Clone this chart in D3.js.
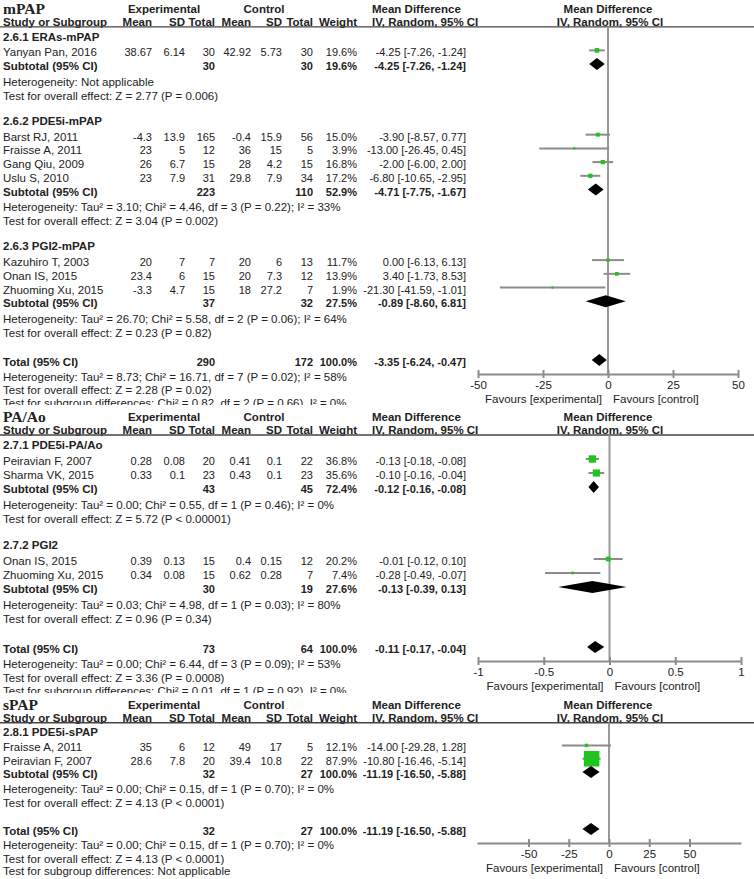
<!DOCTYPE html>
<html><head><meta charset="utf-8">
<script src="https://cdn.jsdelivr.net/npm/d3@7"></script>
<style>
html,body{margin:0;padding:0;background:#fff;}
svg{display:block;font-family:"Liberation Sans",Arial,sans-serif;}
</style></head><body>
<svg id="chart" width="754" height="879"></svg>
<script>
// ---------------- DATA ----------------
const panelTitles = ["mPAP", "PA/Ao", "sPAP"];
const axisTicks = [[-50, -25, 0, 25, 50], [-1, -0.5, 0, 0.5, 1], [-50, -25, 0, 25, 50]];
const axisDomains = [[-50, 50], [-1, 1], [-82, 82]];
const favourLabels = ["Favours [experimental]", "Favours [control]"];
const headerTop = ["Experimental", "Control", "Mean Difference", "Mean Difference"];
const headerCols = ["Study or Subgroup", "Mean", "SD", "Total", "Mean", "SD", "Total", "Weight", "IV, Random, 95% CI", "IV, Random, 95% CI"];

const groupLabels = ["2.6.1 ERAs-mPAP", "2.6.2 PDE5i-mPAP", "2.6.3 PGI2-mPAP", "2.7.1 PDE5i-PA/Ao", "2.7.2 PGI2", "2.8.1 PDE5i-sPAP"];
const groupPanel = [0, 0, 0, 1, 1, 2];

const studyNames = ["Yanyan Pan, 2016", "Barst RJ, 2011", "Fraisse A, 2011", "Gang Qiu, 2009", "Uslu S, 2010",
  "Kazuhiro T, 2003", "Onan IS, 2015", "Zhuoming Xu, 2015",
  "Peiravian F, 2007", "Sharma VK, 2015", "Onan IS, 2015", "Zhuoming Xu, 2015",
  "Fraisse A, 2011", "Peiravian F, 2007"];
const studyGroup = [0, 1, 1, 1, 1, 2, 2, 2, 3, 3, 4, 4, 5, 5];
const expMean = [38.67, -4.3, 23, 26, 23, 20, 23.4, -3.3, 0.28, 0.33, 0.39, 0.34, 35, 28.6];
const expSD = [6.14, 13.9, 5, 6.7, 7.9, 7, 6, 4.7, 0.08, 0.1, 0.13, 0.08, 6, 7.8];
const expTotal = [30, 165, 12, 15, 31, 7, 15, 15, 20, 23, 15, 15, 12, 20];
const ctlMean = [42.92, -0.4, 36, 28, 29.8, 20, 20, 18, 0.41, 0.43, 0.4, 0.62, 49, 39.4];
const ctlSD = [5.73, 15.9, 15, 4.2, 7.9, 6, 7.3, 27.2, 0.1, 0.1, 0.15, 0.28, 17, 10.8];
const ctlTotal = [30, 56, 5, 15, 34, 13, 12, 7, 22, 23, 12, 7, 5, 22];
const studyWeight = [19.6, 15.0, 3.9, 16.8, 17.2, 11.7, 13.9, 1.9, 36.8, 35.6, 20.2, 7.4, 12.1, 87.9];
const studyMD = [-4.25, -3.90, -13.00, -2.00, -6.80, 0.00, 3.40, -21.30, -0.13, -0.10, -0.01, -0.28, -14.00, -10.80];
const studyLo = [-7.26, -8.57, -26.45, -6.00, -10.65, -6.13, -1.73, -41.59, -0.18, -0.16, -0.12, -0.49, -29.28, -16.46];
const studyHi = [-1.24, 0.77, 0.45, 2.00, -2.95, 6.13, 8.53, -1.01, -0.08, -0.04, 0.10, -0.07, 1.28, -5.14];

const subExpTotal = [30, 223, 37, 43, 30, 32];
const subCtlTotal = [30, 110, 32, 45, 19, 27];
const subWeight = [19.6, 52.9, 27.5, 72.4, 27.6, 100.0];
const subMD = [-4.25, -4.71, -0.89, -0.12, -0.13, -11.19];
const subLo = [-7.26, -7.75, -8.60, -0.16, -0.39, -16.50];
const subHi = [-1.24, -1.67, 6.81, -0.08, 0.13, -5.88];
const subHet = [
  "Heterogeneity: Not applicable",
  "Heterogeneity: Tau² = 3.10; Chi² = 4.46, df = 3 (P = 0.22); I² = 33%",
  "Heterogeneity: Tau² = 26.70; Chi² = 5.58, df = 2 (P = 0.06); I² = 64%",
  "Heterogeneity: Tau² = 0.00; Chi² = 0.55, df = 1 (P = 0.46); I² = 0%",
  "Heterogeneity: Tau² = 0.03; Chi² = 4.98, df = 1 (P = 0.03); I² = 80%",
  "Heterogeneity: Tau² = 0.00; Chi² = 0.15, df = 1 (P = 0.70); I² = 0%"];
const subTest = [
  "Test for overall effect: Z = 2.77 (P = 0.006)",
  "Test for overall effect: Z = 3.04 (P = 0.002)",
  "Test for overall effect: Z = 0.23 (P = 0.82)",
  "Test for overall effect: Z = 5.72 (P < 0.00001)",
  "Test for overall effect: Z = 0.96 (P = 0.34)",
  "Test for overall effect: Z = 4.13 (P < 0.0001)"];

const totExpTotal = [290, 73, 32];
const totCtlTotal = [172, 64, 27];
const totWeight = [100.0, 100.0, 100.0];
const totMD = [-3.35, -0.11, -11.19];
const totLo = [-6.24, -0.17, -16.50];
const totHi = [-0.47, -0.04, -5.88];
const totHet = [
  "Heterogeneity: Tau² = 8.73; Chi² = 16.71, df = 7 (P = 0.02); I² = 58%",
  "Heterogeneity: Tau² = 0.00; Chi² = 6.44, df = 3 (P = 0.09); I² = 53%",
  "Heterogeneity: Tau² = 0.00; Chi² = 0.15, df = 1 (P = 0.70); I² = 0%"];
const totTest = [
  "Test for overall effect: Z = 2.28 (P = 0.02)",
  "Test for overall effect: Z = 3.36 (P = 0.0008)",
  "Test for overall effect: Z = 4.13 (P < 0.0001)"];
const totSubgroup = [
  "Test for subgroup differences: Chi² = 0.82, df = 2 (P = 0.66), I² = 0%",
  "Test for subgroup differences: Chi² = 0.01, df = 1 (P = 0.92), I² = 0%",
  "Test for subgroup differences: Not applicable"];

// ---------------- LAYOUT (style) ----------------
const LAY = {
  top: [-3, 405, 693], scale: [0.98, 1, 0.95], bottom: [405, 693, 879],
  range: [[478, 738], [478, 741], [477, 741]],
  colRight: [152, 185, 215, 251, 282, 313, 357, 466],
  nameX: 3, mdLeftX: 372
};
const FS = 11.5, FN = 11;
const TXT = "#222", GREY = "#8c8c8c", GREEN = "#1fc41f";

const svg = d3.select("#chart");
const defs = svg.append("defs");
const fmt2 = v => v.toFixed(2);
const ciText = (m, l, h) => `${fmt2(m)} [${fmt2(l)}, ${fmt2(h)}]`;

function text(g, x, y, s, anchor, bold, size) {
  return g.append("text").attr("x", x).attr("y", y).attr("dominant-baseline", "central")
    .attr("text-anchor", anchor || "start").attr("font-size", size || FS)
    .attr("font-weight", bold ? "bold" : "normal").attr("fill", TXT).text(s);
}

panelTitles.forEach((title, p) => {
  const s = LAY.scale[p];
  const top = LAY.top[p];
  const clipTop = Math.max(top, 0);
  defs.append("clipPath").attr("id", "clip" + p).append("rect")
    .attr("x", 0).attr("y", clipTop).attr("width", 754).attr("height", LAY.bottom[p] - clipTop);
  const g = svg.append("g").attr("clip-path", `url(#clip${p})`);
  g.append("rect").attr("x", 0).attr("y", clipTop).attr("width", 754)
    .attr("height", LAY.bottom[p] - clipTop).attr("fill", "#fff");

  const x = d3.scaleLinear().domain(axisDomains[p]).range(LAY.range[p]);
  const x0 = x(0);

  // build rows
  let y = top + 12;
  const r1 = y; y += 13;
  const r2 = y; const lineY = y + 5 * s; y = lineY + 10 * s;
  const rows = [];
  groupLabels.forEach((gl, gi) => {
    if (groupPanel[gi] !== p) return;
    rows.push({ type: "heading", y, gi }); y += 16 * s;
    studyNames.forEach((n, si) => {
      if (studyGroup[si] !== gi) return;
      rows.push({ type: "study", y, si }); y += 14 * s;
    });
    rows.push({ type: "sub", y, gi }); y += 16 * s;
    rows.push({ type: "het", y, gi }); y += 14 * s;
    rows.push({ type: "test", y, gi }); y += 26 * s;
  });
  y += 4 * s;
  const totY = y;
  const axisY = totY + 12;

  // header
  g.append("text").attr("x", LAY.nameX).attr("y", r1 - 1).attr("dominant-baseline", "central")
    .attr("font-family", "'Liberation Serif','Times New Roman',serif").attr("font-weight", "bold")
    .attr("font-size", 15.5).attr("fill", TXT).text(title);
  text(g, 164, r1, headerTop[0], "middle", true);
  text(g, 264, r1, headerTop[1], "middle", true);
  text(g, LAY.mdLeftX, r1, headerTop[2], "start", true);
  text(g, 608, r1, headerTop[3], "middle", true);
  text(g, LAY.nameX, r2, headerCols[0], "start", true);
  for (let c = 1; c <= 7; c++) text(g, LAY.colRight[c - 1], r2, headerCols[c], "end", true);
  text(g, LAY.mdLeftX, r2, headerCols[8], "start", true);
  text(g, 610, r2, headerCols[9], "middle", true);
  g.append("line").attr("x1", 0).attr("x2", 754).attr("y1", lineY).attr("y2", lineY)
    .attr("stroke", "#444").attr("stroke-width", 1.3);

  // zero line
  g.append("line").attr("x1", x0).attr("x2", x0).attr("y1", lineY).attr("y2", axisY)
    .attr("stroke", "#999").attr("stroke-width", 2);

  const markDy = -2;
  const diamond = (m, l, h, yy) => {
    const ym = yy + markDy;
    g.append("path").attr("d", `M${x(l)},${ym}L${x(m)},${ym - 6}L${x(h)},${ym}L${x(m)},${ym + 6}Z`).attr("fill", "#000");
  };

  rows.forEach(r => {
    if (r.type === "heading") text(g, LAY.nameX, r.y, groupLabels[r.gi], "start", true);
    else if (r.type === "study") {
      const i = r.si;
      text(g, LAY.nameX, r.y, studyNames[i]);
      const vals = [expMean[i], expSD[i], expTotal[i], ctlMean[i], ctlSD[i], ctlTotal[i]];
      vals.forEach((v, c) => text(g, LAY.colRight[c], r.y, String(v), "end", false, FN));
      text(g, LAY.colRight[6], r.y, studyWeight[i].toFixed(1) + "%", "end", false, FN);
      text(g, LAY.colRight[7], r.y, ciText(studyMD[i], studyLo[i], studyHi[i]), "end", false, FN);
      const ym = r.y + markDy;
      g.append("line").attr("x1", x(studyLo[i])).attr("x2", x(studyHi[i])).attr("y1", ym).attr("y2", ym)
        .attr("stroke", GREY).attr("stroke-width", 2);
      const sz = Math.max(2.2, 1.5 + studyWeight[i] * 0.16);
      g.append("rect").attr("x", x(studyMD[i]) - sz / 2).attr("y", ym - sz / 2)
        .attr("width", sz).attr("height", sz).attr("fill", GREEN);
    } else if (r.type === "sub") {
      const i = r.gi;
      text(g, LAY.nameX, r.y, "Subtotal (95% CI)", "start", true);
      text(g, LAY.colRight[2], r.y, String(subExpTotal[i]), "end", true, FN);
      text(g, LAY.colRight[5], r.y, String(subCtlTotal[i]), "end", true, FN);
      text(g, LAY.colRight[6], r.y, subWeight[i].toFixed(1) + "%", "end", true, FN);
      text(g, LAY.colRight[7], r.y, ciText(subMD[i], subLo[i], subHi[i]), "end", true, FN);
      diamond(subMD[i], subLo[i], subHi[i], r.y);
    } else if (r.type === "het") text(g, LAY.nameX, r.y, subHet[r.gi]);
    else if (r.type === "test") text(g, LAY.nameX, r.y, subTest[r.gi]);
  });

  // total
  text(g, LAY.nameX, totY, "Total (95% CI)", "start", true);
  text(g, LAY.colRight[2], totY, String(totExpTotal[p]), "end", true, FN);
  text(g, LAY.colRight[5], totY, String(totCtlTotal[p]), "end", true, FN);
  text(g, LAY.colRight[6], totY, totWeight[p].toFixed(1) + "%", "end", true, FN);
  text(g, LAY.colRight[7], totY, ciText(totMD[p], totLo[p], totHi[p]), "end", true, FN);
  diamond(totMD[p], totLo[p], totHi[p], totY);
  text(g, LAY.nameX, totY + 15 * s, totHet[p]);
  text(g, LAY.nameX, totY + 29 * s, totTest[p]);
  text(g, LAY.nameX, totY + 42 * s, totSubgroup[p]);

  // axis
  const ax = g.append("g").attr("transform", `translate(0,${axisY})`)
    .call(d3.axisBottom(x).tickValues(axisTicks[p]).tickSizeInner(4).tickSizeOuter(0).tickPadding(3)
      .tickFormat(d => String(d)));
  ax.select(".domain").attr("stroke", GREY).attr("stroke-width", 2);
  ax.selectAll(".tick line").attr("y1", -4).attr("y2", 4).attr("stroke", GREY).attr("stroke-width", 2);
  ax.selectAll(".tick text").attr("font-size", FS).attr("fill", TXT)
    .attr("font-family", "'Liberation Sans',Arial,sans-serif");
  text(g, x0 - 6, axisY + 25, favourLabels[0], "end");
  text(g, x0 + 5, axisY + 25, favourLabels[1], "start");
});
</script>
</body></html>
